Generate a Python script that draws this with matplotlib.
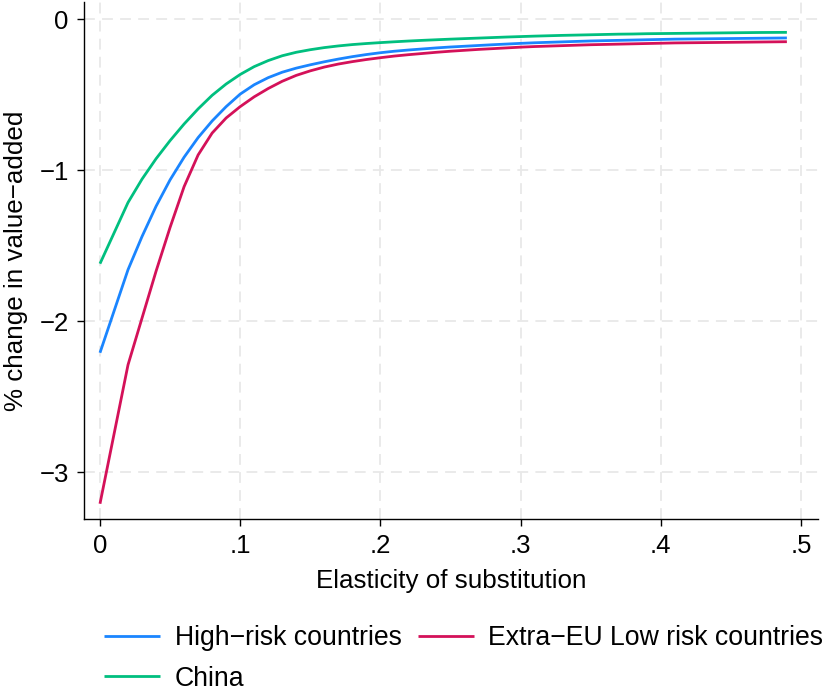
import matplotlib
matplotlib.use("Agg")
import matplotlib.pyplot as plt

plt.rcParams['font.family'] = ['Liberation Sans', 'DejaVu Sans']

# Elasticity of substitution grid
elasticity = [0.0] + [round(0.02 + 0.01 * i, 2) for i in range(48)]

high_risk = [-2.21, -1.66, -1.44, -1.24, -1.065, -0.915, -0.785, -0.675, -0.58, -0.497,
             -0.435, -0.388, -0.352, -0.325, -0.303, -0.283, -0.265, -0.249, -0.235, -0.223,
             -0.213, -0.205, -0.198, -0.191, -0.185, -0.180, -0.175, -0.170, -0.1655, -0.161,
             -0.157, -0.154, -0.151, -0.148, -0.145, -0.143, -0.141, -0.139, -0.137, -0.135,
             -0.133, -0.132, -0.131, -0.130, -0.129, -0.128, -0.127, -0.126, -0.125]

extra_eu_low = [-3.21, -2.29, -1.98, -1.67, -1.38, -1.11, -0.90, -0.755, -0.655, -0.58,
                -0.515, -0.46, -0.412, -0.373, -0.343, -0.318, -0.298, -0.282, -0.268, -0.256,
                -0.245, -0.236, -0.228, -0.220, -0.213, -0.207, -0.201, -0.196, -0.191, -0.186,
                -0.182, -0.179, -0.176, -0.173, -0.170, -0.168, -0.166, -0.164, -0.162, -0.160,
                -0.158, -0.157, -0.156, -0.155, -0.154, -0.153, -0.152, -0.151, -0.150]

china = [-1.62, -1.215, -1.06, -0.925, -0.805, -0.695, -0.595, -0.505, -0.43, -0.367,
         -0.315, -0.275, -0.243, -0.220, -0.203, -0.189, -0.178, -0.169, -0.162, -0.156,
         -0.1505, -0.1455, -0.141, -0.137, -0.133, -0.1295, -0.126, -0.1225, -0.119, -0.116,
         -0.113, -0.1105, -0.108, -0.106, -0.104, -0.102, -0.100, -0.099, -0.097, -0.096,
         -0.095, -0.094, -0.093, -0.092, -0.091, -0.090, -0.089, -0.0885, -0.088]

xticks = [0, 0.1, 0.2, 0.3, 0.4, 0.5]
xticklabels = ["0", ".1", ".2", ".3", ".4", ".5"]
yticks = [0, -1, -2, -3]
yticklabels = ["0", "\u22121", "\u22122", "\u22123"]

labels = ["High\u2212risk countries", "Extra\u2212EU Low risk countries", "China"]
colors = ["#1a85ff", "#d41159", "#00bf7f"]

W, H = 822, 693
fig = plt.figure(figsize=(W / 100, H / 100), dpi=100)
ax = fig.add_axes([84 / W, 1 - 519 / H, (818 - 84) / W, (519 - 2) / H])

lines = []
for vals, lab, col in zip([high_risk, extra_eu_low, china], labels, colors):
    ln, = ax.plot(elasticity, vals, color=col, lw=2.0, label=lab, solid_capstyle='butt')
    lines.append(ln)

ax.set_xlim(-0.0114, 0.5122)
ax.set_ylim(-3.311, 0.113)
ax.set_xticks(xticks)
ax.set_xticklabels(xticklabels)
ax.set_yticks(yticks)
ax.set_yticklabels(yticklabels)
ax.grid(True, color="#e8e8e8", lw=1.3, ls=(0, (6, 4)))
ax.set_axisbelow(True)
for s in ["top", "right"]:
    ax.spines[s].set_visible(False)
for s in ["left", "bottom"]:
    ax.spines[s].set_linewidth(1.0)
ax.tick_params(axis='both', direction='out', length=5, width=1.0, labelsize=18.5, pad=6)
ax.set_xlabel("Elasticity of substitution", fontsize=18.7, labelpad=8)
ax.set_ylabel("% change in value\u2212added", fontsize=18.7, labelpad=8)

fig.legend([lines[0], lines[2], lines[1]], [labels[0], labels[2], labels[1]],
           ncol=2, loc='upper left', bbox_to_anchor=(104 / W, 1 - 625 / H),
           frameon=False, fontsize=19.2, handlelength=2.1, handletextpad=0.55,
           columnspacing=0.6, labelspacing=0.55, borderpad=0, borderaxespad=0)

fig.savefig("out.png", dpi=100)
